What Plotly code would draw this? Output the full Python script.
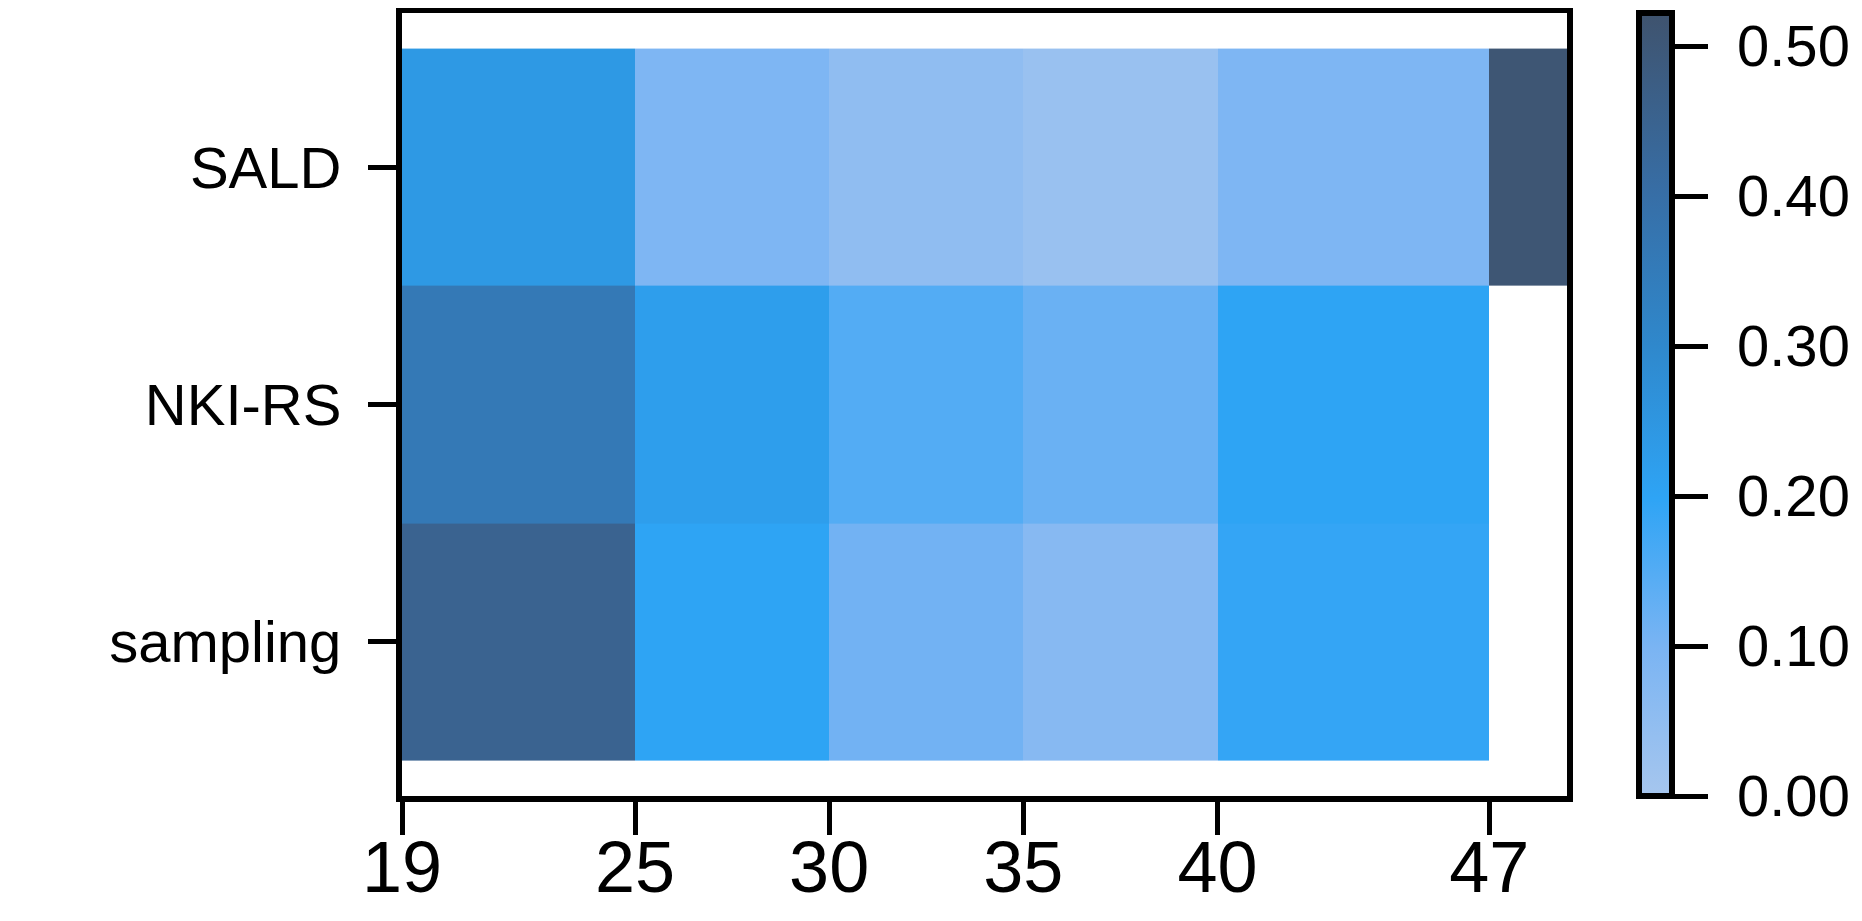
import plotly.graph_objs as go

# age bin edges (last bin only used by SALD)
age_edges = [19, 25, 30, 35, 40, 47, 49]
age_ticks = [19, 25, 30, 35, 40, 47]
datasets = ['sampling', 'NKI-RS', 'SALD']

sampling_vals = [0.45, 0.20, 0.11, 0.07, 0.19, None]
nki_vals = [0.36, 0.22, 0.15, 0.12, 0.20, None]
sald_vals = [0.24, 0.09, 0.05, 0.03, 0.09, 0.51]

cbar_ticks = [0.0, 0.1, 0.2, 0.3, 0.4, 0.5]
zmax = 0.522

colorscale = [
    [0.0, '#a6c6ee'],
    [0.19, '#7ab4f3'],
    [0.38, '#2ea4f5'],
    [0.575, '#2f88cc'],
    [0.77, '#376ea6'],
    [1.0, '#3f536e'],
]

W, H = 1862, 921
left = 394
paper_w = W - left
def px(x):
    # figure pixel -> paper fraction
    return (x - left) / paper_w

fig = go.Figure()
fig.add_trace(go.Heatmap(
    x=age_edges,
    y=datasets,
    z=[sampling_vals, nki_vals, sald_vals],
    zmin=0, zmax=zmax,
    colorscale=colorscale,
    colorbar=dict(
        x=px(1631), xanchor='left', xpad=0,
        y=0.5, yanchor='middle', len=1, lenmode='fraction', ypad=0,
        thickness=33,
        outlinewidth=6, outlinecolor='black',
        tickvals=cbar_ticks,
        showticklabels=False,
        ticks='outside', ticklen=33, tickwidth=5, tickcolor='black',
    ),
))

# colorbar labels drawn on a free axis so they can sit further from the ticks
fig.add_trace(go.Scatter(x=[None], y=[None], yaxis='y2', showlegend=False, hoverinfo='skip'))

fig.update_layout(
    xaxis=dict(
        domain=[0, px(1559)],
        range=[19, 49],
        tickvals=age_ticks,
        ticks='outside', ticklen=33, tickwidth=5, tickcolor='black',
        showline=True, linewidth=6, linecolor='black', mirror=True,
        showgrid=False, zeroline=False, automargin=False,
        ticklabelstandoff=-29,
        tickfont=dict(family='Liberation Sans, Arial', size=72, color='black'),
    ),
    yaxis=dict(
        range=[-0.65, 2.65],
        ticks='outside', ticklen=28, tickwidth=5, tickcolor='black',
        showline=True, linewidth=6, linecolor='black', mirror=True,
        showgrid=False, zeroline=False, automargin=False,
        ticklabelstandoff=15,
        tickfont=dict(family='Liberation Sans, Arial', size=58, color='black'),
    ),
    yaxis2=dict(
        overlaying='y', anchor='free', side='right', position=px(1702),
        range=[0, zmax], tickvals=cbar_ticks, tickformat='.2f',
        ticks='', showline=False, showgrid=False, zeroline=False, automargin=False,
        ticklabelstandoff=26,
        tickfont=dict(family='Liberation Sans, Arial', size=58, color='black'),
    ),
    width=W, height=H,
    margin=dict(l=left, r=0, t=5, b=133, autoexpand=False),
    plot_bgcolor='white', paper_bgcolor='white',
)

fig.write_html("out.html")
